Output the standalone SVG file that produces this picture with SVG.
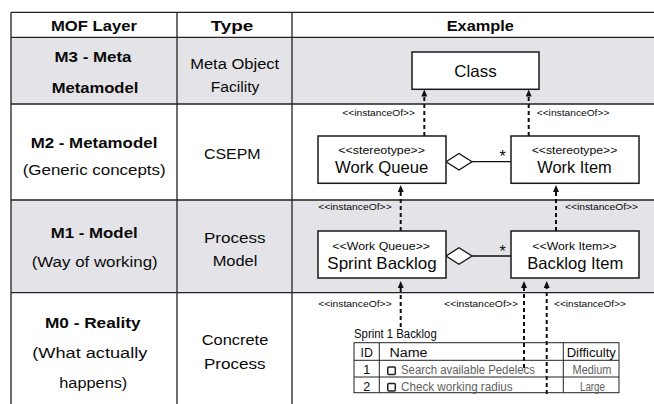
<svg xmlns="http://www.w3.org/2000/svg" width="654" height="404" viewBox="0 0 654 404">
  <style>
    text { font-family: "Liberation Sans", Arial, Helvetica, sans-serif; fill: #0a0a0a; }
    .b { font-weight: bold; font-size: 15px; text-anchor: middle; }
    .r { font-size: 15.5px; text-anchor: middle; }
    .grid { stroke: #222; stroke-width: 1.3; fill: none; }
    .band { fill: #e4e4e8; }
    .box { fill: #fff; stroke: #1a1a1a; stroke-width: 1.5; }
    .st { font-size: 11.5px; text-anchor: middle; }
    .nm { font-size: 16.5px; text-anchor: middle; }
    .io { font-size: 9.5px; }
    .dep { stroke: #111; stroke-width: 2; stroke-dasharray: 4 3; fill: none; marker-end: url(#tri); }
    .agg { stroke: #111; stroke-width: 1.3; fill: #fff; }
    .star { font-size: 16px; text-anchor: middle; }
    .tb { stroke: #222; stroke-width: 1; fill: none; }
    .tt { font-size: 12.5px; }
    .tg { font-size: 12.5px; fill: #606060; }
    .chk { fill: #fff; stroke: #222; stroke-width: 1.5; }
  </style>
  <defs>
    <marker id="tri" markerUnits="userSpaceOnUse" viewBox="0 0 7 6" markerWidth="7" markerHeight="6" refX="0" refY="3" orient="auto">
      <path d="M0,0 L7,3 L0,6 z" fill="#111"/>
    </marker>
  </defs>

  <rect width="654" height="404" fill="#fff"/>

  <!-- layer table: shaded rows and rules -->
  <g id="layer-table">
    <rect class="band" x="11" y="37.3" width="643" height="66.7"/>
    <rect class="band" x="11" y="200" width="643" height="92.7"/>
    <path class="grid" d="M11,12.3 H654 M11,37.3 H654 M11,104 H654 M11,200 H654 M11,292.7 H654 M11,12.3 V404 M177,12.3 V404 M292,12.3 V404"/>

    <text class="b" x="94" y="31" textLength="86" lengthAdjust="spacingAndGlyphs">MOF Layer</text>
    <text class="b" x="232" y="31" textLength="42.7" lengthAdjust="spacingAndGlyphs">Type</text>
    <text class="b" x="480.3" y="31" textLength="67.3" lengthAdjust="spacingAndGlyphs">Example</text>

    <text class="b" x="93" y="61.5" textLength="77" lengthAdjust="spacingAndGlyphs">M3 - Meta</text>
    <text class="b" x="95" y="93" textLength="86.7" lengthAdjust="spacingAndGlyphs">Metamodel</text>
    <text class="r" x="234.7" y="69" textLength="89" lengthAdjust="spacingAndGlyphs">Meta Object</text>
    <text class="r" x="235" y="92.3" textLength="48.7" lengthAdjust="spacingAndGlyphs">Facility</text>

    <text class="b" x="94" y="148" textLength="126.7" lengthAdjust="spacingAndGlyphs">M2 - Metamodel</text>
    <text class="r" x="94.2" y="174.5" textLength="143" lengthAdjust="spacingAndGlyphs">(Generic concepts)</text>
    <text class="r" x="232.3" y="159" textLength="56.7" lengthAdjust="spacingAndGlyphs">CSEPM</text>

    <text class="b" x="94.2" y="237.7" textLength="87" lengthAdjust="spacingAndGlyphs">M1 - Model</text>
    <text class="r" x="94.7" y="267" textLength="126" lengthAdjust="spacingAndGlyphs">(Way of working)</text>
    <text class="r" x="234.8" y="243" textLength="61.7" lengthAdjust="spacingAndGlyphs">Process</text>
    <text class="r" x="235" y="265.7" textLength="44.7" lengthAdjust="spacingAndGlyphs">Model</text>

    <text class="b" x="92.8" y="328" textLength="95.7" lengthAdjust="spacingAndGlyphs">M0 - Reality</text>
    <text class="r" x="89.8" y="358" textLength="115" lengthAdjust="spacingAndGlyphs">(What actually</text>
    <text class="r" x="93.3" y="388" textLength="68" lengthAdjust="spacingAndGlyphs">happens)</text>
    <text class="r" x="235" y="344.5" textLength="66.7" lengthAdjust="spacingAndGlyphs">Concrete</text>
    <text class="r" x="234.8" y="369" textLength="61.7" lengthAdjust="spacingAndGlyphs">Process</text>
  </g>

  <!-- connectors: instanceOf dependencies and aggregations -->
  <g id="connectors">
    <line class="dep" x1="424.3" y1="136" x2="424.3" y2="96.5"/>
    <line class="dep" x1="528.7" y1="136" x2="528.7" y2="96.5"/>
    <line class="dep" x1="400.7" y1="231" x2="400.7" y2="192"/>
    <line class="dep" x1="556" y1="231" x2="556" y2="192"/>
    <line class="dep" x1="400.7" y1="327" x2="400.7" y2="288"/>
    <line class="dep" x1="524" y1="368" x2="524" y2="288"/>
    <line class="dep" x1="546.7" y1="394" x2="546.7" y2="288"/>

    <line x1="472" y1="161.7" x2="511" y2="161.7" stroke="#111" stroke-width="1.3"/>
    <polygon class="agg" points="446,161.7 459,153.5 472,161.7 459,170"/>
    <text class="star" x="502.7" y="162">*</text>

    <line x1="472" y1="256" x2="511" y2="256" stroke="#111" stroke-width="1.3"/>
    <polygon class="agg" points="446,256 459,247.8 472,256 459,264.2"/>
    <text class="star" x="502.7" y="256.5">*</text>

    <text class="io" x="415" y="116" text-anchor="end" textLength="72.7" lengthAdjust="spacingAndGlyphs">&lt;&lt;instanceOf&gt;&gt;</text>
    <text class="io" x="536.7" y="116" textLength="72.7" lengthAdjust="spacingAndGlyphs">&lt;&lt;instanceOf&gt;&gt;</text>
    <text class="io" x="391.7" y="210" text-anchor="end" textLength="73.5" lengthAdjust="spacingAndGlyphs">&lt;&lt;instanceOf&gt;&gt;</text>
    <text class="io" x="565" y="210" textLength="73" lengthAdjust="spacingAndGlyphs">&lt;&lt;instanceOf&gt;&gt;</text>
    <text class="io" x="391.7" y="307" text-anchor="end" textLength="73.5" lengthAdjust="spacingAndGlyphs">&lt;&lt;instanceOf&gt;&gt;</text>
    <text class="io" x="518" y="307" text-anchor="end" textLength="74" lengthAdjust="spacingAndGlyphs">&lt;&lt;instanceOf&gt;&gt;</text>
    <text class="io" x="554" y="307" textLength="72" lengthAdjust="spacingAndGlyphs">&lt;&lt;instanceOf&gt;&gt;</text>
  </g>

  <g id="class">
    <rect class="box" x="412" y="52" width="127" height="37.3"/>
    <text class="nm" x="475.5" y="77.3" textLength="42.3" lengthAdjust="spacingAndGlyphs">Class</text>
  </g>

  <g id="work-queue">
    <rect class="box" x="318" y="136" width="128" height="47.3"/>
    <text class="st" x="381.7" y="153.5" textLength="86.7" lengthAdjust="spacingAndGlyphs">&lt;&lt;stereotype&gt;&gt;</text>
    <text class="nm" x="381.7" y="172.7" textLength="93.3" lengthAdjust="spacingAndGlyphs">Work Queue</text>
  </g>

  <g id="work-item">
    <rect class="box" x="511" y="136" width="128" height="47.3"/>
    <text class="st" x="574.5" y="153.5" textLength="85.6" lengthAdjust="spacingAndGlyphs">&lt;&lt;stereotype&gt;&gt;</text>
    <text class="nm" x="574.5" y="172.7" textLength="74.4" lengthAdjust="spacingAndGlyphs">Work Item</text>
  </g>

  <g id="sprint-backlog">
    <rect class="box" x="318" y="231" width="128" height="47"/>
    <text class="st" x="381.2" y="250" textLength="97.7" lengthAdjust="spacingAndGlyphs">&lt;&lt;Work Queue&gt;&gt;</text>
    <text class="nm" x="382" y="269" textLength="109.3" lengthAdjust="spacingAndGlyphs">Sprint Backlog</text>
  </g>

  <g id="backlog-item">
    <rect class="box" x="511" y="231" width="128" height="47"/>
    <text class="st" x="574.5" y="250" textLength="84.3" lengthAdjust="spacingAndGlyphs">&lt;&lt;Work Item&gt;&gt;</text>
    <text class="nm" x="575.3" y="269" textLength="96" lengthAdjust="spacingAndGlyphs">Backlog Item</text>
  </g>

  <g id="sprint-1-backlog">
    <text class="tt" x="354" y="338" textLength="82.7" lengthAdjust="spacingAndGlyphs">Sprint 1 Backlog</text>
    <rect class="tb" x="354" y="342.7" width="265" height="50"/>
    <path class="tb" d="M354,360.3 H619 M354,377 H619 M379.3,342.7 V392.7 M563.3,342.7 V392.7"/>
    <text class="tt" x="366.7" y="357" text-anchor="middle" textLength="12.4" lengthAdjust="spacingAndGlyphs">ID</text>
    <text class="tt" x="389.5" y="357" textLength="38" lengthAdjust="spacingAndGlyphs">Name</text>
    <text class="tt" x="591.3" y="357" text-anchor="middle" textLength="49.3" lengthAdjust="spacingAndGlyphs">Difficulty</text>

    <text class="tt" x="366.7" y="374" text-anchor="middle">1</text>
    <rect class="chk" x="387.8" y="367" width="7.5" height="7.5" rx="1"/>
    <text class="tg" x="401" y="374" textLength="134" lengthAdjust="spacingAndGlyphs">Search available Pedelecs</text>
    <text class="tg" x="592" y="374" text-anchor="middle" textLength="39" lengthAdjust="spacingAndGlyphs">Medium</text>

    <text class="tt" x="366.7" y="390.7" text-anchor="middle">2</text>
    <rect class="chk" x="387.8" y="383.5" width="7.5" height="7.5" rx="1"/>
    <text class="tg" x="401" y="390.7" textLength="111.7" lengthAdjust="spacingAndGlyphs">Check working radius</text>
    <text class="tg" x="592.5" y="390.7" text-anchor="middle" textLength="25" lengthAdjust="spacingAndGlyphs">Large</text>
  </g>
</svg>
